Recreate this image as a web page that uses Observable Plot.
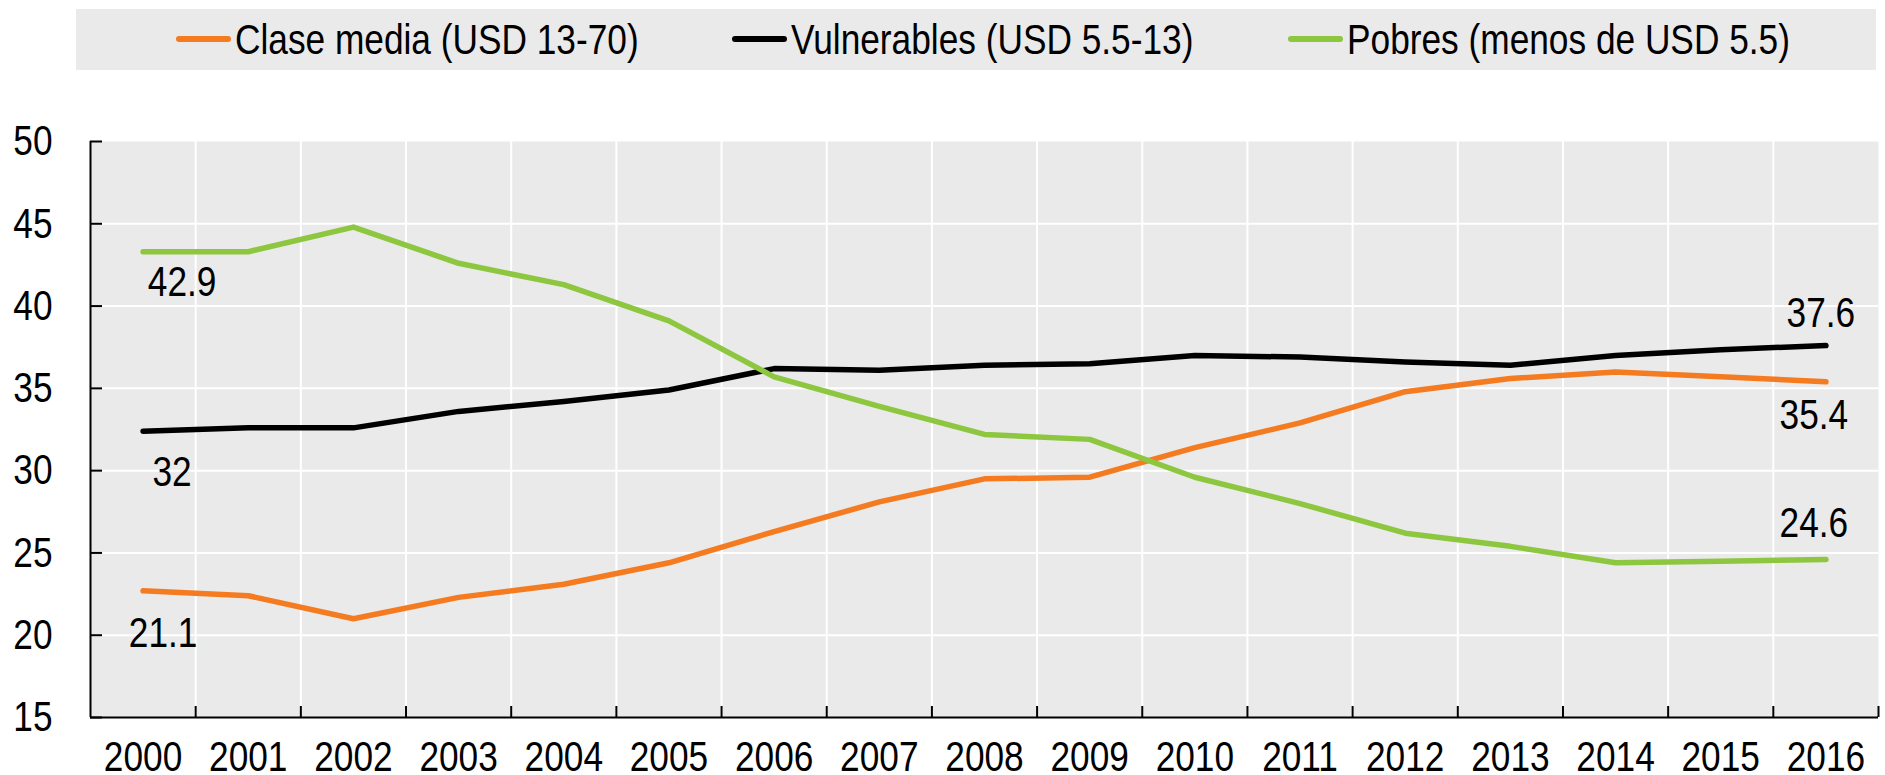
<!DOCTYPE html>
<html>
<head>
<meta charset="utf-8">
<script src="https://cdn.jsdelivr.net/npm/d3@7"></script>
<script src="https://cdn.jsdelivr.net/npm/@observablehq/plot@0.6"></script>
<style>
  html, body { margin: 0; padding: 0; background: #ffffff; }
  body { font-family: "Liberation Sans", Arial, sans-serif; width: 1885px; }
  #legend { position: relative; margin: 9px 0 0 76px; width: 1800px; height: 61px; background: #eaeaea; }
  .item { position: absolute; top: 0; height: 61px; display: flex; align-items: center; font-size: 43px; color: #000; white-space: nowrap; }
  .sw { display: inline-block; width: 55px; height: 6px; border-radius: 3px; margin-right: 4px; margin-top: -2px; }
  .lt { display: inline-block; transform: scaleX(0.82); transform-origin: 0 50%; }
  #chart svg { display: block; }
</style>
</head>
<body>
<div id="legend"></div>
<div id="chart"></div>
<script>
// ---- data ----
const years = [2000, 2001, 2002, 2003, 2004, 2005, 2006, 2007, 2008, 2009, 2010, 2011, 2012, 2013, 2014, 2015, 2016];
const seriesNames = ["Clase media (USD 13-70)", "Vulnerables (USD 5.5-13)", "Pobres (menos de USD 5.5)"];
const seriesColors = ["#f47b20", "#000000", "#8dc63f"];
const claseMedia  = [22.7, 22.4, 21.0, 22.3, 23.1, 24.4, 26.3, 28.1, 29.5, 29.6, 31.4, 32.9, 34.8, 35.6, 36.0, 35.7, 35.4];
const vulnerables = [32.4, 32.6, 32.6, 33.6, 34.2, 34.9, 36.2, 36.1, 36.4, 36.5, 37.0, 36.9, 36.6, 36.4, 37.0, 37.35, 37.6];
const pobres      = [43.3, 43.3, 44.8, 42.6, 41.3, 39.1, 35.7, 33.9, 32.2, 31.9, 29.6, 28.0, 26.2, 25.4, 24.4, 24.5, 24.6];
const yTicks = [15, 20, 25, 30, 35, 40, 45, 50];
const labelSeries = ["Pobres (menos de USD 5.5)", "Vulnerables (USD 5.5-13)", "Clase media (USD 13-70)", "Vulnerables (USD 5.5-13)", "Clase media (USD 13-70)", "Pobres (menos de USD 5.5)"];
const labelYears  = [2000, 2000, 2000, 2016, 2016, 2016];
const labelTexts  = ["42.9", "32", "21.1", "37.6", "35.4", "24.6"];

// ---- build table ----
const seriesValues = [claseMedia, vulnerables, pobres];
const data = seriesNames.flatMap((name, s) => years.map((year, i) => ({series: name, year, value: seriesValues[s][i]})));
const lookup = (name, year) => data.find(d => d.series === name && d.year === year).value;
const labels = labelTexts.map((text, i) => ({series: labelSeries[i], year: labelYears[i], value: lookup(labelSeries[i], labelYears[i]), text}));
const labelDx = [39, 29, 20, -5, -12, -12];
const labelDy = [30, 41, 42, -32, 33, -36];

// ---- legend ----
const legendLefts = [100, 656, 1212];
const legend = document.getElementById("legend");
seriesNames.forEach((name, i) => {
  const it = document.createElement("div");
  it.className = "item";
  it.style.left = legendLefts[i] + "px";
  const sw = document.createElement("span");
  sw.className = "sw";
  sw.style.background = seriesColors[i];
  it.appendChild(sw);
  const t = document.createElement("span");
  t.className = "lt";
  t.textContent = name;
  it.appendChild(t);
  legend.appendChild(it);
});

// ---- chart ----
const boundaries = years.map(y => y + 0.5);
const xDomain = [years[0] - 0.5, years[years.length - 1] + 0.5];
const font = '"Liberation Sans", Arial, sans-serif';

const chart = Plot.plot({
  width: 1885,
  height: 705,
  marginTop: 71,
  marginBottom: 58,
  marginLeft: 90,
  marginRight: 7,
  style: {fontFamily: font, fontSize: "43px", color: "#000", background: "transparent", overflow: "visible"},
  x: {domain: xDomain},
  y: {domain: [yTicks[0], yTicks[yTicks.length - 1]]},
  color: {domain: seriesNames, range: seriesColors},
  marks: [
    Plot.frame({fill: "#eaeaea", stroke: null}),
    Plot.ruleY(yTicks.slice(1, -1), {y: d => d, stroke: "#ffffff", strokeWidth: 2}),
    Plot.ruleX(boundaries.slice(0, -1), {x: d => d, stroke: "#ffffff", strokeWidth: 2}),
    Plot.line(data, {x: "year", y: "value", z: "series", stroke: "series", strokeWidth: 5.5, strokeLinecap: "round", strokeLinejoin: "round"}),
    ...labels.map((l, i) => Plot.text([l], {x: "year", y: "value", text: "text", dx: labelDx[i], dy: labelDy[i], fill: "#000", fontSize: 43})),
    Plot.axisX({ticks: years, tickSize: 0, tickPadding: 23, tickFormat: d => String(d), label: null, fontSize: 43}),
    Plot.axisY({ticks: yTicks, tickSize: 0, tickPadding: 38, tickFormat: d => String(d), label: null, fontSize: 43}),
    Plot.ruleX([xDomain[0]], {x: d => d, stroke: "#000", strokeWidth: 2}),
    Plot.ruleY([yTicks[0]], {y: d => d, stroke: "#000", strokeWidth: 2}),
    Plot.ruleX(boundaries, {x: d => d, y1: yTicks[0], y2: yTicks[0], insetTop: -11, stroke: "#000", strokeWidth: 2}),
    Plot.ruleY(yTicks, {y: d => d, x1: xDomain[0], x2: xDomain[0], insetRight: -12, stroke: "#000", strokeWidth: 2})
  ]
});
document.getElementById("chart").appendChild(chart);

// narrow the type (the reference uses a condensed face): scale each text horizontally about its anchor
chart.querySelectorAll("text").forEach(t => {
  const x = +(t.getAttribute("x") || 0);
  const tr = t.getAttribute("transform") || "";
  t.setAttribute("transform", `${tr} translate(${x},0) scale(0.82,1) translate(${-x},0)`.trim());
});
</script>
</body>
</html>
